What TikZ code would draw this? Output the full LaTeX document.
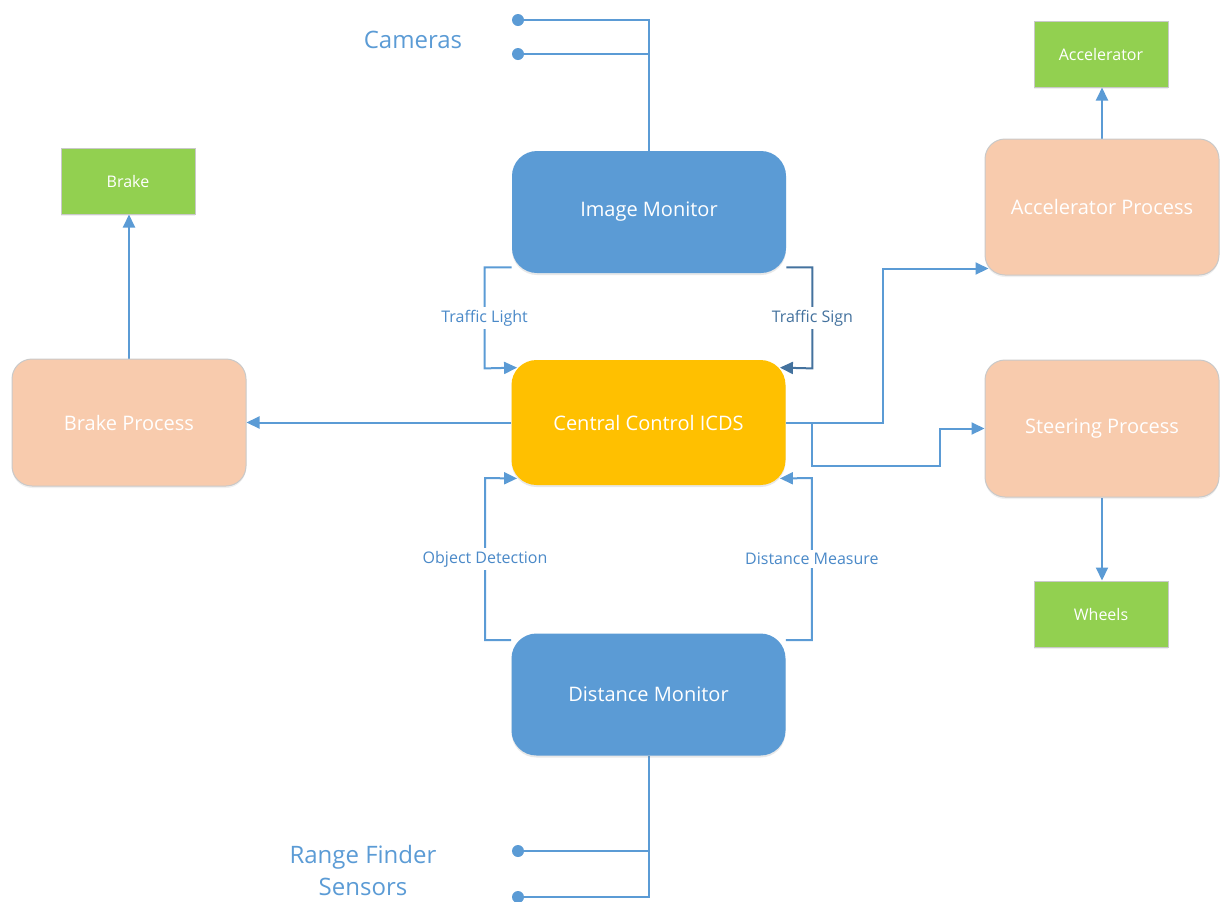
\documentclass[tikz,border=0pt]{standalone}
\usepackage{fontspec}
\setmainfont{Open Sans}
\usetikzlibrary{arrows.meta,backgrounds,shadows}
\definecolor{mblue}{HTML}{5B9BD5}
\definecolor{dblue}{HTML}{44729E}
\definecolor{tblue}{HTML}{4A89C8}
\definecolor{cgold}{HTML}{FFC000}
\definecolor{peach}{HTML}{F8CBAD}
\definecolor{lgreen}{HTML}{92D050}
\definecolor{edge}{HTML}{C9C9C9}
\begin{document}
\begin{tikzpicture}[x=0.5pt,y=-0.5pt,
  mon/.style={rounded corners=12.5pt,fill=mblue,text=white,font=\fontsize{10}{12}\selectfont,
    minimum width=137pt,minimum height=61pt,
    drop shadow={shadow xshift=0pt,shadow yshift=-1pt,opacity=0.18}},
  ctrl/.style={mon,fill=cgold,minimum height=62.5pt},
  proc/.style={rounded corners=10pt,fill=peach,draw=edge,line width=0.5pt,text=white,
    font=\fontsize{10}{12}\selectfont,minimum width=117pt,minimum height=64pt,
    drop shadow={shadow xshift=0pt,shadow yshift=-1pt,opacity=0.12}},
  act/.style={fill=lgreen,draw=edge,line width=0.5pt,text=white,font=\fontsize{8}{10}\selectfont,
    minimum width=67pt,minimum height=33pt,
    drop shadow={shadow xshift=0pt,shadow yshift=-1pt,opacity=0.12}},
  conn/.style={draw=mblue,line width=1pt},
  arr/.style={conn,-{Triangle[length=6.5pt,width=6pt]}},
  lbl/.style={fill=white,inner sep=1.5pt,text=tblue,font=\fontsize{8}{10}\selectfont},
  big/.style={text=mblue,font=\fontsize{12}{16}\selectfont,align=center},
  dot/.style={fill=mblue}]
\useasboundingbox (0,0) rectangle (1227,901);

% main blocks
\node[mon]  (im) at (649,212)   {Image Monitor};
\node[ctrl] (cc) at (648.5,422.5) {Central Control ICDS};
\node[mon]  (dm) at (648.5,694.5) {Distance Monitor};

\node[proc,minimum height=63.5pt] (bp) at (129,422.5)  {Brake Process};
\node[proc,minimum height=68pt]   (ap) at (1102,207)   {Accelerator Process};
\node[proc,minimum height=68.5pt] (sp) at (1102,428.5) {Steering Process};

\node[act] (brk) at (128,181)  {Brake};
\node[act] (acc) at (1101,54)  {Accelerator};
\node[act] (whl) at (1101,614) {Wheels};

% sensor inputs
\coordinate (c1) at (518,20);
\coordinate (c2) at (518,54);
\coordinate (r1) at (518,851);
\coordinate (r2) at (518,897);
\node[big] (cam) at (413,40) {Cameras};
\node[big] (rng) at (363,870) {Range Finder\\Sensors};

\begin{scope}[on background layer]
  \draw[conn] (c1) -| (im.north);
  \draw[conn] (c2) -- (c2 -| im.north);
  \draw[conn] (dm.south) |- (r2);
  \draw[conn] (r1) -- (r1 -| dm.south);

  % image monitor to control
  \draw[arr] ([yshift=3pt]im.south west) -- ++(-13.5pt,0)
     -- node[lbl]{Traffic Light} ++(0,-50.5pt)
     -- ([xshift=3pt,yshift=-4pt]cc.north west);
  \draw[arr,draw=dblue] ([yshift=3pt]im.south east) -- ++(13pt,0)
     -- node[lbl,text=dblue]{Traffic Sign} ++(0,-50.5pt)
     -- ([xshift=-3pt,yshift=-4pt]cc.north east);

  % distance monitor to control
  \draw[arr] ([yshift=-3.5pt]dm.north west) -- ++(-13pt,0)
     -- node[lbl]{Object Detection} ++(0,81pt)
     -- ([xshift=3pt,yshift=3.5pt]cc.south west);
  \draw[arr] ([yshift=-3.5pt]dm.north east) -- ++(13pt,0)
     -- node[lbl]{Distance Measure} ++(0,81pt)
     -- ([xshift=-3pt,yshift=3.5pt]cc.south east);

  % control outputs
  \draw[arr] (cc.west) -- (bp.east);
  \draw[arr] (cc.east) -- ++(48.5pt,0) |- ([xshift=2pt,yshift=3.5pt]ap.south west);
  \draw[arr] ([xshift=13pt]cc.east) -- ++(0,-21.75pt)
     -| ([xshift=-22.5pt]sp.west) -- (sp.west);

  % actuators
  \draw[arr] (bp.north) -- (bp.north |- brk.south);
  \draw[arr] (ap.north) -- (ap.north |- acc.south);
  \draw[arr] (sp.south) -- (sp.south |- whl.north);
\end{scope}

\fill[dot] (c1) circle (3pt);
\fill[dot] (c2) circle (3pt);
\fill[dot] (r1) circle (3pt);
\fill[dot] (r2) circle (3pt);
\end{tikzpicture}
\end{document}
